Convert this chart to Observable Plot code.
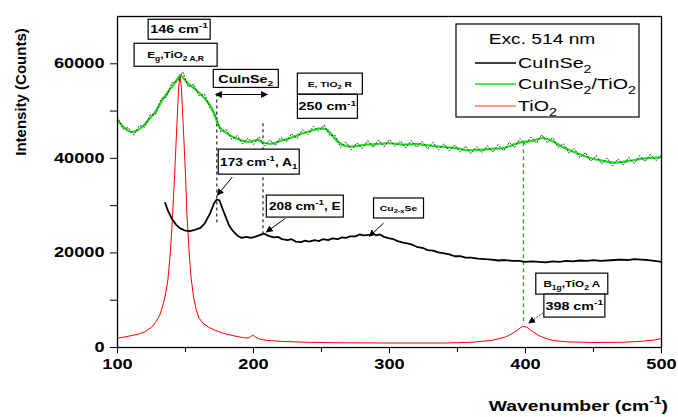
<!DOCTYPE html>
<html>
<head>
<meta charset="utf-8">
<script src="https://cdn.jsdelivr.net/npm/d3@7"></script>
<script src="https://cdn.jsdelivr.net/npm/@observablehq/plot@0.6"></script>
<style>
  html, body { margin: 0; padding: 0; background: #fff; }
  #chart svg { display: block; }
</style>
</head>
<body>
<div id="chart"></div>
<script>
// ---- Data ----
const xTicks = [100, 200, 300, 400, 500];
const xMinorTicks = [150, 250, 350, 450];
const yTicks = [0, 20000, 40000, 60000];
const yMinorTicks = [10000, 30000, 50000];

// CuInSe2/TiO2 smoothed fit (green)
const compositeFit = [
  [100,48000],[104,46800],[108,45800],[111,45600],[115,46000],[119,46900],[123,48200],
  [127,49500],[131,51300],[134,52800],[138,54400],[141,55500],[144,56800],[146.5,57500],
  [149,56800],[152,55800],[156,54900],[161,53600],[165,52400],[169,50800],[172,48600],
  [175,46600],[180,45400],[185,44500],[190,43900],[196,43500],[200,43700],[203,43900],
  [207,43300],[213,43100],[220,43700],[228,44400],[235,45200],[242,45800],[248,46300],
  [253,46200],[257,45200],[261,43800],[266,42800],[272,42500],[280,42800],[290,43000],
  [300,43200],[310,42900],[320,43000],[330,42700],[340,42400],[350,42100],[358,41700],
  [365,41800],[375,42000],[384,42200],[392,43000],[398,43500],[405,43700],[413,44300],
  [420,43600],[428,42300],[436,41300],[445,40300],[455,39600],[465,39100],[475,39400],
  [485,39900],[492,40100],[500,40200]
];

// CuInSe2/TiO2 raw points (black noise around the fit)
const compositeRaw = [
  [100,48800],[104,46200],[108,46500],[112,44900],[116,47000],[120,46600],[124,49200],
  [128,49300],[132,52600],[136,53000],[140,56000],[144,56200],[148,58300],[152,55100],
  [156,55700],[160,53200],[164,53600],[168,50500],[172,49400],[176,45600],[180,46100],
  [184,44000],[188,44800],[192,43100],[196,44300],[200,42900],[204,44600],[208,42600],
  [212,43900],[216,42700],[220,44500],[224,43500],[228,45200],[232,44200],[236,46100],
  [240,45000],[244,46800],[248,45700],[252,47100],[256,44800],[260,44900],[264,42300],
  [268,43500],[272,41800],[276,43300],[280,42100],[284,43800],[288,42300],[292,43900],
  [296,42400],[300,44000],[304,42500],[308,43700],[312,42200],[316,43800],[320,42300],
  [324,43600],[328,42000],[332,43400],[336,41800],[340,43100],[344,41600],[348,42900],
  [352,41300],[356,42600],[360,41000],[364,42500],[368,41200],[372,42700],[376,41300],
  [380,42900],[384,41600],[388,43400],[392,42300],[396,44200],[400,42900],[404,44500],
  [408,43200],[412,45000],[416,43300],[420,44400],[424,42300],[428,43100],[432,41100],
  [436,42100],[440,40100],[444,41200],[448,39400],[452,40600],[456,38800],[460,40100],
  [464,38400],[468,39900],[472,38600],[476,40200],[480,38900],[484,40600],[488,39300],
  [492,40900],[496,39500],[500,40800]
];

// CuInSe2 (black)
const cuinse2 = [
  [135,30600],[137,29000],[140,27200],[143,26000],[146,25200],[150,24700],[153,24600],
  [157,24900],[161,25300],[164,26200],[168,28300],[171,30500],[173,31300],[175,31100],
  [177,29500],[180,27300],[182,25800],[185,24600],[188,23700],[191,23200],[195,23400],
  [198,23200],[201,23400],[204,23700],[207.5,24100],[211,23600],[215,23300],[218,23400],
  [221,22900],[225,22700],[228,22900],[231,22400],[235,22300],[238,22600],[241,22400],
  [245,22700],[248,22500],[251,22900],[255,22700],[258,23100],[262,22900],[265,23300],
  [268,23200],[271,23500],[275,23500],[278,23900],[281,23700],[285,23800],[288,24200],
  [290,23700],[293,23900],[296,23400],[300,23100],[303,22900],[306,22500],[310,22200],
  [313,22000],[316,21800],[320,21300],[325,21000],[328,20600],[332,20500],[336,20100],
  [340,19900],[344,19700],[348,19300],[352,19300],[356,19000],[360,19000],[365,18800],
  [370,18700],[375,18600],[380,18400],[385,18500],[390,18300],[395,18300],[400,18100],
  [405,18200],[410,18100],[415,18000],[420,18200],[425,18100],[430,18300],[435,18200],
  [440,18400],[445,18300],[450,18500],[455,18300],[460,18400],[465,18500],[470,18600],
  [475,18500],[480,18700],[485,18600],[490,18500],[495,18300],[500,18100]
];

// TiO2 (red)
const tio2 = [
  [100,2000],[105,2200],[110,2500],[115,2800],[120,3300],[125,4300],[128,5300],[131,6800],
  [133,8500],[135,10800],[137,14100],[139,20500],[140.5,28000],[142,36500],[143.5,46000],
  [145,55000],[146,57800],[147,55000],[148.5,46000],[150,36500],[151,28500],[152.5,21000],
  [154,15000],[156,10500],[158,7800],[160,6200],[163,5100],[167,4300],[172,3600],[178,3000],
  [185,2500],[192,2100],[196,2000],[198,2300],[199.5,2600],[201,2300],[204,1800],[210,1500],
  [220,1300],[240,1100],[260,1000],[300,950],[340,950],[360,1100],[375,1500],[385,2200],
  [390,2900],[394,3700],[398,4500],[401,4300],[405,3400],[410,2500],[415,1900],[420,1500],
  [430,1200],[450,1050],[470,1100],[485,1300],[495,1600],[500,1900]
];

// Peak marker lines: [wavenumber, yFrom, yTo]
const peakMarkersBlack = [[173, 53600, 26400], [207, 47300, 24100]];
const peakMarkersGreen = [[398.5, 43300, 5000]];

// Annotation texts
const labelTexts = {
  eg146: "146 cm^{-1}",
  egName: "E_{g},TiO_{2 A,R}",
  cis: "CuInSe_{2}",
  eName: "E, TiO_{2} R",
  e250: "250 cm^{-1}",
  a173: "173 cm^{-1}, A_{1}",
  e208: "208 cm^{-1}, E",
  cuse: "Cu_{2-x}Se",
  b1gName: "B_{1g},TiO_{2} A",
  b398: "398 cm^{-1}"
};
const legendTitle = "Exc. 514 nm";
const legendNames = ["CuInSe_{2}", "CuInSe_{2}/TiO_{2}", "TiO_{2}"];
const xTitle = "Wavenumber (cm^{-1})";
const yTitle = "Intensity (Counts)";

// ---- Layout / style ----
const FONT = "Arial, 'Liberation Sans', sans-serif";
const GREEN = "#1ee01e";
const RED = "#ff0000";
const SX = 1.3; // horizontal text stretch seen in the reference

// boxes: anchor in data coords (box centre), size in px
const boxes = [
  {t: labelTexts.eg146, x: 145.7, y: 67200, w: 62, h: 20, fs: 11},
  {t: labelTexts.egName, x: 143.1, y: 61800, w: 83, h: 23, fs: 9},
  {t: labelTexts.cis, x: 194.7, y: 56800, w: 65, h: 18, fs: 11},
  {t: labelTexts.eName, x: 256.5, y: 55700, w: 65, h: 21, fs: 8},
  {t: labelTexts.e250, x: 254.7, y: 50900, w: 60, h: 24, fs: 11},
  {t: labelTexts.a173, x: 204.2, y: 39200, w: 81, h: 25, fs: 10.5},
  {t: labelTexts.e208, x: 238.1, y: 29800, w: 77, h: 22, fs: 10.5},
  {t: labelTexts.cuse, x: 307, y: 29400, w: 50, h: 20, fs: 8},
  {t: labelTexts.b1gName, x: 434.4, y: 13400, w: 72, h: 21, fs: 9},
  {t: labelTexts.b398, x: 436.3, y: 8760, w: 61, h: 23, fs: 11}
];
const arrows = [
  {x1: 184.7, y1: 35900, x2: 173.7, y2: 32100, dash: null},
  {x1: 223.8, y1: 27200, x2: 209.8, y2: 24300, dash: null},
  {x1: 296, y1: 26200, x2: 285.6, y2: 23400, dash: null},
  {x1: 413, y1: 7180, x2: 402.8, y2: 5070, dash: "1.5,1.5"}
];
const doubleArrow = {x1: 172.5, x2: 210.5, y: 53400};

function richText(g, str, x, y, size, anchor, weight, sx) {
  const wrap = g.append("g").attr("transform", `translate(${x},${y}) scale(${sx || SX},1)`);
  const t = wrap.append("text")
    .attr("text-anchor", anchor || "middle")
    .attr("font-size", size)
    .attr("font-weight", weight || "bold")
    .attr("font-family", FONT)
    .attr("fill", "black");
  const parts = str.split(/(\^\{[^}]*\}|_\{[^}]*\})/).filter(s => s.length);
  let shift = 0;
  for (const p of parts) {
    let txt = p, s = 0, fs = size;
    if (p.startsWith("^{")) { txt = p.slice(2, -1); s = -size * 0.45; fs = size * 0.72; }
    else if (p.startsWith("_{")) { txt = p.slice(2, -1); s = size * 0.3; fs = size * 0.72; }
    const ts = t.append("tspan").attr("font-size", fs).text(txt);
    if (s !== shift) ts.attr("dy", s - shift);
    shift = s;
  }
  return wrap;
}

function overlay(index, scales, values, dimensions) {
  const x = scales.x, y = scales.y;
  const g = d3.create("svg:g");
  const defs = g.append("defs");
  defs.append("marker").attr("id", "ah").attr("viewBox", "0 0 10 10")
    .attr("refX", 9).attr("refY", 5).attr("markerWidth", 7).attr("markerHeight", 7)
    .attr("orient", "auto-start-reverse").attr("markerUnits", "userSpaceOnUse")
    .append("path").attr("d", "M0,0 L10,5 L0,10 z").attr("fill", "black");

  for (const b of boxes) {
    const cx = x(b.x), cy = y(b.y);
    g.append("rect").attr("x", cx - b.w / 2).attr("y", cy - b.h / 2)
      .attr("width", b.w).attr("height", b.h)
      .attr("fill", "white").attr("stroke", "black").attr("stroke-width", 1.2);
    richText(g, b.t, cx, cy + b.fs * 0.38, b.fs, "middle", "bold");
  }
  for (const a of arrows) {
    g.append("line").attr("x1", x(a.x1)).attr("y1", y(a.y1))
      .attr("x2", x(a.x2)).attr("y2", y(a.y2))
      .attr("stroke", "black").attr("stroke-width", 1)
      .attr("stroke-dasharray", a.dash)
      .attr("marker-end", "url(#ah)");
  }
  g.append("line").attr("x1", x(doubleArrow.x1)).attr("x2", x(doubleArrow.x2))
    .attr("y1", y(doubleArrow.y)).attr("y2", y(doubleArrow.y))
    .attr("stroke", "black").attr("stroke-width", 1.2)
    .attr("marker-start", "url(#ah)").attr("marker-end", "url(#ah)");

  // legend
  const L = {x: 456, y: 24, w: 183, h: 93};
  g.append("rect").attr("x", L.x).attr("y", L.y).attr("width", L.w).attr("height", L.h)
    .attr("fill", "white").attr("stroke", "black").attr("stroke-width", 1.2);
  richText(g, legendTitle, 542, 44, 15.5, "middle", "normal", 1.24);
  const lc = ["black", GREEN, "#ff7777"];
  const ly = [63, 84, 106];
  legendNames.forEach((n, i) => {
    g.append("line").attr("x1", 475).attr("x2", 516).attr("y1", ly[i]).attr("y2", ly[i])
      .attr("stroke", lc[i]).attr("stroke-width", 1.5);
    richText(g, n, 518, ly[i] + 5, 15.5, "start", "normal", 1.27);
  });

  // axis titles
  richText(g, xTitle, 668, 411, 15, "end", "bold", 1.29);
  g.append("text")
    .attr("transform", "translate(26,92) rotate(-90)")
    .attr("text-anchor", "middle").attr("font-size", 15).attr("font-weight", "bold")
    .attr("font-family", FONT).attr("fill", "black").text(yTitle);
  return g.node();
}

const vline = (arr, color, dash, width) => Plot.ruleX(arr, {
  x: d => d[0], y1: d => d[1], y2: d => d[2],
  stroke: color, strokeDasharray: dash, strokeWidth: width
});

const chart = Plot.plot({
  width: 678,
  height: 417,
  marginLeft: 117,
  marginRight: 17,
  marginTop: 16,
  marginBottom: 70,
  style: {fontFamily: FONT, background: "white", color: "black"},
  x: {domain: [100, 500]},
  y: {domain: [0, 70000]},
  marks: [
    Plot.line(tio2, {x: d => d[0], y: d => d[1], stroke: RED, strokeWidth: 1}),
    vline(peakMarkersBlack, "#222", "3,3", 1.2),
    vline(peakMarkersGreen, "#3a9a3a", "4,3", 1.3),
    Plot.line(compositeFit, {x: d => d[0], y: d => d[1], stroke: GREEN, strokeWidth: 2.2, curve: "catmull-rom"}),
    Plot.line(compositeRaw, {x: d => d[0], y: d => d[1], stroke: "#222", strokeWidth: 1, strokeDasharray: "1.2,2.2", strokeOpacity: 0.9}),
    Plot.line(cuinse2, {x: d => d[0], y: d => d[1], stroke: "black", strokeWidth: 1.8}),
    Plot.axisX({ticks: xTicks, tickSize: 6, tickPadding: 6, fontSize: 14, fontWeight: "bold", label: null, tickFormat: d3.format("d")}),
    Plot.axisX({ticks: xMinorTicks, tickSize: 5, label: null, tickFormat: () => ""}),
    Plot.axisY({ticks: yTicks, tickSize: 7, tickPadding: 6, fontSize: 14, fontWeight: "bold", label: null, tickFormat: d3.format("d")}),
    Plot.axisY({ticks: yMinorTicks, tickSize: 7, label: null, tickFormat: () => ""}),
    Plot.frame({stroke: "black", strokeWidth: 1.3}),
    overlay
  ]
});

// stretch axis tick labels horizontally like the reference
d3.select(chart).selectAll('g[aria-label="x-axis tick label"] text, g[aria-label="y-axis tick label"] text')
  .each(function () {
    const el = this;
    const tx = +(el.getAttribute("x") || 0);
    const tr = el.getAttribute("transform") || "";
    el.setAttribute("transform", `${tr} translate(${tx},0) scale(${SX},1) translate(${-tx},0)`);
  });

document.getElementById("chart").appendChild(chart);
</script>
</body>
</html>
